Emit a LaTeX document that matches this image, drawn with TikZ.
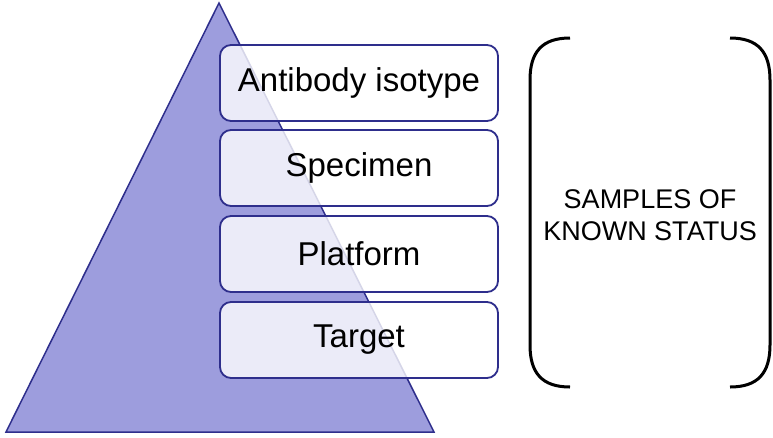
\documentclass[tikz,border=0pt]{standalone}
\usepackage{fontspec}
\setmainfont{Liberation Sans}
\definecolor{pyrfill}{RGB}{157,157,221}
\definecolor{pyrline}{RGB}{46,46,140}
\begin{document}
\begin{tikzpicture}[x=1pt,y=-1pt,
  layerbox/.style={draw=pyrline, line width=1.8pt, rounded corners=11pt, fill=white, fill opacity=0.8, text opacity=1, minimum width=278pt, minimum height=76pt, inner sep=0pt, font=\fontsize{33}{36}\selectfont, text=black},
  bracket/.style={draw=black, line width=3pt}]
\useasboundingbox (0,0) rectangle (773,437);
\draw[pyrline, line width=1.5pt, fill=pyrfill] (219,3) -- (434,432) -- (6,432) -- cycle;
\node[layerbox] (iso) at (359,83) {Antibody isotype};
\node[layerbox] (spec) at (359,168) {Specimen};
\node[layerbox] (plat) at (359,254) {Platform};
\node[layerbox] (targ) at (359,340) {Target};
\draw[bracket] (570,38) .. controls (542,38) and (530,52) .. (530,80) -- (530,345) .. controls (530,373) and (542,387) .. (570,387);
\draw[bracket] (730,38) .. controls (758,38) and (770,52) .. (770,80) -- (770,345) .. controls (770,373) and (758,387) .. (730,387);
\node[align=center, inner sep=0pt, font=\fontsize{27}{32}\selectfont] (status) at (650,215.5) {SAMPLES OF\\KNOWN STATUS};
\end{tikzpicture}
\end{document}
